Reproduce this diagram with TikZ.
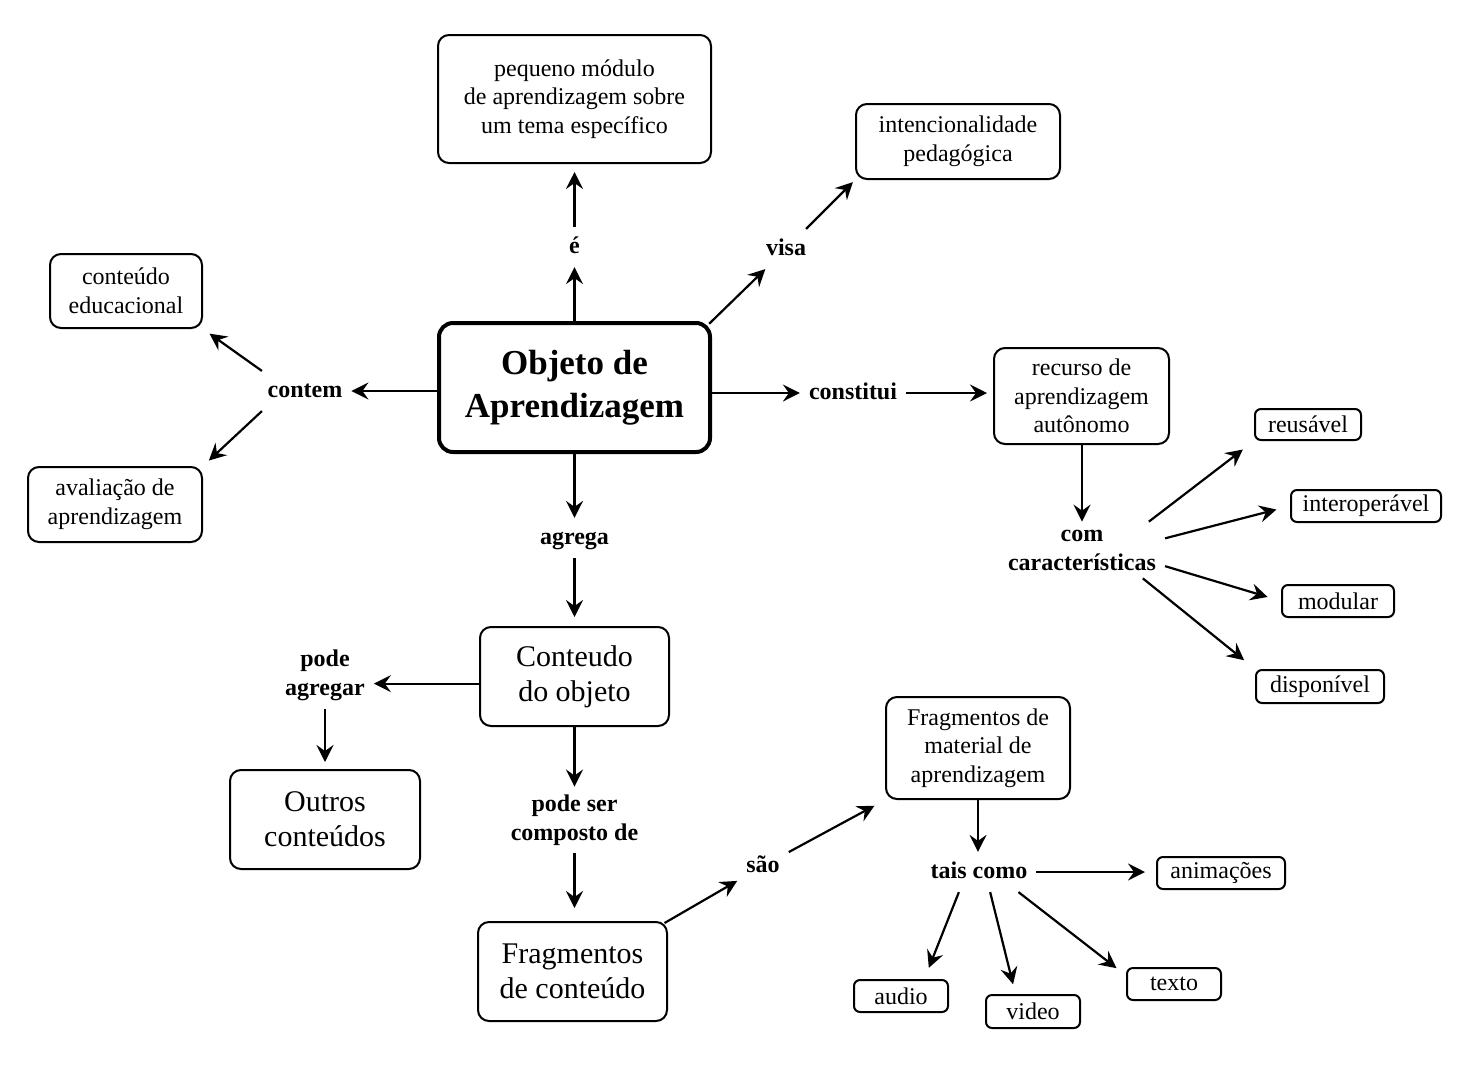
\documentclass[tikz,border=0pt]{standalone}
\usepackage{fontspec}
\setmainfont{Liberation Serif}
\usetikzlibrary{arrows.meta}

\begin{document}
\begin{tikzpicture}[x=1pt,y=-1pt,->,>={Stealth[length=17pt,width=17pt,inset=6pt]},
  line width=2.2pt,
  concept/.style={draw,line width=2pt,rounded corners=11pt,align=center,inner sep=0pt,
    font=\fontsize{24}{28.5}\selectfont},
  big concept/.style={concept,font=\fontsize{30}{35}\selectfont},
  small concept/.style={concept,rounded corners=6pt},
  link word/.style={align=center,inner xsep=8pt,inner ysep=7pt,
    font=\bfseries\fontsize{24}{29}\selectfont},
  one line/.style={link word,text height=18pt,text depth=6pt},
  to box/.style={shorten >=#1},to box/.default=9pt]
  \useasboundingbox (0,0) rectangle (1473,1080);

  \node[concept,line width=4pt,rounded corners=14pt,minimum width=271pt,minimum height=129pt,
    font=\bfseries\fontsize{35}{43}\selectfont] (objeto) at (574.5,387.5) {Objeto de\\Aprendizagem};
  \node[concept,minimum width=273pt,minimum height=128pt] (modulo) at (574.5,99) {pequeno módulo\\de aprendizagem sobre\\um tema específico};
  \node[concept,minimum width=204pt,minimum height=75pt] (intencao) at (958,141.5) {intencionalidade\\pedagógica};
  \node[concept,minimum width=152pt,minimum height=74pt] (educacional) at (126,291) {conteúdo\\educacional};
  \node[concept,minimum width=174pt,minimum height=75pt] (avaliacao) at (115,504.5) {avaliação de\\aprendizagem};
  \node[concept,minimum width=175pt,minimum height=96pt] (recurso) at (1081.5,396) {recurso de\\aprendizagem\\autônomo};
  \node[small concept,minimum width=106pt,minimum height=31pt] (reusavel) at (1308,424.5) {reusável};
  \node[small concept,minimum width=150pt,minimum height=32pt] (interop) at (1366,506) {interoperável};
  \node[small concept,minimum width=112pt,minimum height=32pt] (modular) at (1338,601) {modular};
  \node[small concept,minimum width=128pt,minimum height=33pt] (disponivel) at (1320,686.5) {disponível};
  \node[big concept,minimum width=189pt,minimum height=99pt] (conteudo) at (574.5,676.5) {Conteudo\\do objeto};
  \node[big concept,minimum width=190pt,minimum height=99pt] (outros) at (325,819.5) {Outros\\conteúdos};
  \node[big concept,minimum width=189pt,minimum height=99pt] (fragconteudo) at (572.5,971.5) {Fragmentos\\de conteúdo};
  \node[concept,minimum width=184pt,minimum height=102pt] (material) at (978,748) {Fragmentos de\\material de\\aprendizagem};
  \node[small concept,minimum width=128pt,minimum height=32pt] (animacoes) at (1221,873) {animações};
  \node[small concept,minimum width=94pt,minimum height=32pt] (audio) at (901,996) {audio};
  \node[small concept,minimum width=94pt,minimum height=33pt] (video) at (1033,1011.5) {video};
  \node[small concept,minimum width=94pt,minimum height=32pt] (texto) at (1174,984) {texto};

  \node[one line] (e) at (574.5,247) {é};
  \node[one line] (visa) at (786,249) {visa};
  \node[one line] (contem) at (305,391) {contem};
  \node[one line] (constitui) at (853,393) {constitui};
  \node[link word] (carac) at (1082,550) {com\\características};
  \node[one line] (agrega) at (574.5,538) {agrega};
  \node[link word] (podeagregar) at (325,675) {pode\\agregar};
  \node[link word] (podeser) at (574.5,820) {pode ser\\composto de};
  \node[one line] (sao) at (763,866) {são};
  \node[one line] (tais) at (979,872) {tais como};

  \path (objeto) edge (e)
        (e) edge[to box=8pt] (modulo)
        (objeto.north east) edge[shorten <=-4pt] (visa)
        (visa) edge[to box=3pt] (intencao.south west)
        (objeto.west |- contem) edge (contem)
        (contem.155) edge[to box=8pt] (educacional.south east)
        (contem.-155) edge[to box=8pt] (avaliacao.north east)
        (objeto.east |- constitui) edge (constitui)
        (constitui) edge[to box=6pt] (constitui -| recurso.west)
        (recurso.south -| carac) edge (carac)
        (carac.23) edge[to box=14pt] (reusavel.south west)
        (carac.8) edge[to box=14pt] (interop.west)
        (carac.-11) edge[to box=14pt] (modular.west)
        (carac.-25) edge[to box=14pt] (disponivel.north west)
        (objeto) edge (agrega)
        (agrega) edge[to box] (conteudo)
        (conteudo.west |- podeagregar.-10) edge (podeagregar.-10)
        (podeagregar) edge[to box=7pt] (outros)
        (conteudo) edge (podeser)
        (podeser) edge[to box=13pt] (podeser |- fragconteudo.north)
        (fragconteudo.north east) edge[shorten <=-4pt] (sao)
        (sao) edge[to box=12pt] (material.south west)
        (material) edge (material |- tais.north)
        (tais) edge[to box=11pt] (tais -| animacoes.west)
        (tais.-135) edge[to box=12pt] (audio.36)
        (tais.-61) edge[to box=10pt] (video.135)
        (tais.-27) edge[to box=12pt] (texto.170);
\end{tikzpicture}
\end{document}
